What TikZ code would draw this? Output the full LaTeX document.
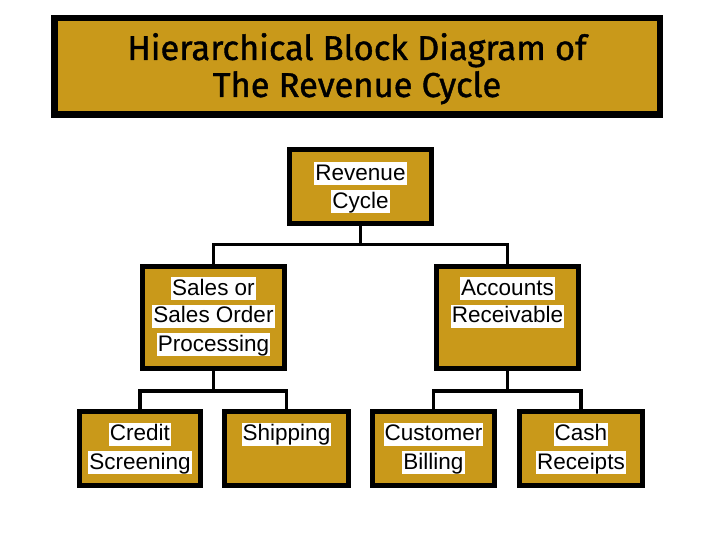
\documentclass[tikz,border=0pt]{standalone}
\usepackage{fontspec}
\setmainfont{Liberation Sans}
\newfontfamily\titlefont[FakeBold=1.2]{Fira Sans}
\definecolor{gold}{RGB}{201,153,26}
\begin{document}
\begin{tikzpicture}[x=1pt,y=-1pt,
  box/.style={draw=black,fill=gold,line width=5pt,inner sep=0pt},
  lbl/.style={fill=white,inner sep=0pt,inner xsep=1pt,text height=18pt,text depth=5pt,
    font=\fontsize{22.5}{27}\selectfont},
  conn/.style={draw=black,line width=3.5pt},
  ttl/.style={anchor=base,inner sep=0pt,font=\titlefont\fontsize{34.5}{40}\selectfont}]
\useasboundingbox (0,0) rectangle (720,540);
% title
\node[draw=black,fill=gold,line width=6.5pt,minimum width=605.5pt,minimum height=96.5pt] (title) at (357,66.5) {};
\node[ttl] (title1) at (357,60) {Hierarchical Block Diagram of};
\node[ttl] (title2) at (357,97) {The Revenue Cycle};
% boxes
\node[box,minimum width=142pt,minimum height=74pt] (rev) at (360.5,186.5) {};
\node[box,minimum width=142pt,minimum height=102pt] (sales) at (213.5,317.5) {};
\node[box,minimum width=142pt,minimum height=102pt] (ar) at (507.5,317.5) {};
\node[box,minimum width=121pt,minimum height=74pt] (credit) at (140,448.5) {};
\node[box,minimum width=124pt,minimum height=74pt] (ship) at (286.5,448.5) {};
\node[box,minimum width=122pt,minimum height=74pt] (billing) at (433.5,448.5) {};
\node[box,minimum width=123pt,minimum height=74pt] (cash) at (581,448.5) {};
% labels
\node[lbl] (rev1) at (360.5,174) {Revenue};
\node[lbl] (rev2) at (360.5,201.5) {Cycle};
\node[lbl] (sales1) at (213.5,288.5) {Sales or};
\node[lbl] (sales2) at (213.5,316) {Sales Order};
\node[lbl] (sales3) at (213.5,344.5) {Processing};
\node[lbl] (ar1) at (507.5,288.5) {Accounts};
\node[lbl] (ar2) at (507.5,316) {Receivable};
\node[lbl] (credit1) at (140,434) {Credit};
\node[lbl] (credit2) at (140,462.5) {Screening};
\node[lbl] (ship1) at (286.5,434) {Shipping};
\node[lbl] (billing1) at (433.5,434) {Customer};
\node[lbl] (billing2) at (433.5,462.5) {Billing};
\node[lbl] (cash1) at (581,434) {Cash};
\node[lbl] (cash2) at (581,462.5) {Receipts};
% connectors
\coordinate (j1) at (360.5,244.5);
\coordinate (j2) at (213.5,391);
\coordinate (j3) at (507.5,391);
\draw[conn] (rev.south) -- (j1);
\draw[conn] (sales.north) |- (j1) -| (ar.north);
\draw[conn] (sales.south) -- (j2);
\draw[conn] (credit.north) |- (j2) -| (ship.north);
\draw[conn] (ar.south) -- (j3);
\draw[conn] (billing.north) |- (j3) -| (cash.north);
\end{tikzpicture}
\end{document}
